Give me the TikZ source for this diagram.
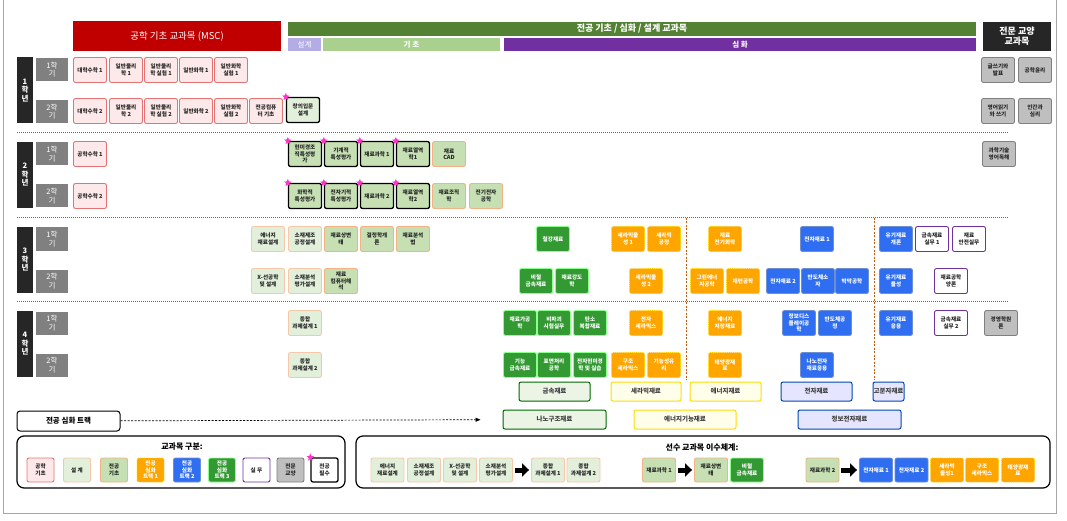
\documentclass[tikz,border=0pt]{standalone}
\usepackage{fontspec}
\setmainfont{Noto Sans CJK KR}
\usetikzlibrary{shapes.geometric,arrows.meta}
\definecolor{msccolor}{HTML}{C00000}
\definecolor{mscfill}{HTML}{FDE9E9}
\definecolor{mscline}{HTML}{E57373}
\definecolor{majorcolor}{HTML}{548235}
\definecolor{designbar}{HTML}{B4ACE4}
\definecolor{basicbar}{HTML}{A9D08E}
\definecolor{deepbar}{HTML}{7030A0}
\definecolor{designfill}{HTML}{E2EFDA}
\definecolor{basicfill}{HTML}{C6E0B4}
\definecolor{salmonline}{HTML}{F4B183}
\definecolor{trackone}{HTML}{FFA500}
\definecolor{tracktwo}{HTML}{2F6EF0}
\definecolor{trackthree}{HTML}{339933}
\definecolor{practicecolor}{HTML}{7030A0}
\definecolor{liberalfill}{HTML}{BFBFBF}
\definecolor{starcolor}{HTML}{FF33CC}
\definecolor{splitcolor}{HTML}{C55A11}
\newcommand\coursefont{\fontsize{5.6}{6.6}\selectfont\bfseries}
\newcommand\labelfont{\fontsize{7.5}{8.5}\selectfont}

\tikzset{
  course/.style={draw, rounded corners=2pt, line width=0.9pt, minimum width=33pt,
    minimum height=25pt, inner sep=0.5pt, align=center, font=\coursefont, text=black!85},
  msc/.style={course, fill=mscfill, draw=mscline},
  design/.style={course, fill=designfill, draw=salmonline!70},
  basic/.style={course, fill=basicfill, draw=salmonline},
  trackA/.style={course, fill=trackone, draw=yellow!70!orange, densely dotted, text=white},
  trackB/.style={course, fill=tracktwo, draw=cyan!40!blue!60, text=white},
  trackC/.style={course, fill=trackthree, draw=green!45, text=white},
  practice/.style={course, fill=white, draw=practicecolor},
  liberal/.style={course, fill=liberalfill, draw=black!50},
  required/.style={draw=black, line width=1.3pt},
  reqstar/.style={star, star points=5, star point ratio=2.3, fill=starcolor, inner sep=0pt, minimum size=8pt},
  yearbar/.style={fill=black!85, text=white, minimum width=16pt, minimum height=66pt, inner sep=0pt,
    align=center, font=\labelfont\bfseries},
  sembox/.style={fill=black!50, text=white, minimum width=32pt, minimum height=23pt, inner sep=0pt,
    align=center, font=\labelfont},
  headbar/.style={inner sep=0pt, text=white, align=center},
  trackbox/.style={draw, rounded corners=2pt, line width=1pt, minimum height=19pt, inner sep=0pt,
    text=black!75, font=\fontsize{6.5}{7}\selectfont\bfseries},
  tmetal/.style={trackbox, draw=green!40!black, fill=designfill!70},
  tcer/.style={trackbox, draw=yellow!80!orange, fill=yellow!8},
  telec/.style={trackbox, draw=blue!60!cyan!70!black, fill=blue!10},
  legendframe/.style={draw, rounded corners=7pt, line width=1.2pt},
  bigarrow/.style={line width=5pt, -{Triangle[length=7pt,width=13pt]}, shorten <=2pt, shorten >=2pt},
  sepline/.style={black!60, line width=0.8pt, dash pattern=on 1pt off 1pt},
}

\begin{document}
\begin{tikzpicture}[x=1pt, y=-1pt]
\useasboundingbox (0,0) rectangle (1067,521);
% outer frame
\draw[black!35, line width=0.8pt] (3,0) -- (3,513) -- (1056,513) -- (1056,0);

% header bars
\node[headbar, fill=msccolor, minimum width=208pt, minimum height=30pt, font=\fontsize{9.5}{10}\selectfont] (mschead) at (177,36) {공학 기초 교과목 (MSC)};
\node[headbar, fill=majorcolor, minimum width=688pt, minimum height=14pt, font=\fontsize{9}{10}\selectfont\bfseries] (majorhead) at (632,29) {전공 기초 / 심화 / 설계 교과목};
\node[headbar, fill=designbar, minimum width=33pt, minimum height=13pt, font=\labelfont] (designhead) at (304.5,44.5) {설계};
\node[headbar, fill=basicbar, minimum width=177pt, minimum height=13pt, font=\labelfont\bfseries] (basichead) at (411.5,44.5) {기 초};
\node[headbar, fill=deepbar, minimum width=472pt, minimum height=13pt, font=\labelfont\bfseries] (deephead) at (740,44.5) {심 화};
\node[headbar, fill=black!85, minimum width=68pt, minimum height=29pt, font=\fontsize{9}{10}\selectfont\bfseries] (libhead) at (1017,36.5) {전문 교양\\교과목};

% year and semester labels
\foreach \n/\y [count=\i] in {1/90.5, 2/175, 3/260, 4/344} {
  \node[yearbar] (year\n) at (25,\y) {\n\\학\\년};
  \node[sembox] (sem\n a) at (52,\y-21) {1학\\기};
  \node[sembox] (sem\n b) at (52,\y+21) {2학\\기};
}

% separators
\foreach \y in {132, 217, 301}
  \draw[sepline] (17,\y) -- (1008,\y);
\draw[splitcolor, line width=0.7pt, dash pattern=on 2pt off 1.5pt] (686,218) -- (686,380);
\draw[splitcolor, line width=0.7pt, dash pattern=on 2pt off 1.5pt] (874,218) -- (874,380);

% 1st year
\foreach \n/\x/\t in {calc1/90/{대학수학 1}, phys1/126/{일반물리\\학 1}, physlab1/161/{일반물리\\학 실험 1},
  chem1/196/{일반화학 1}, chemlab1/231/{일반화학\\실험 1}}
  \node[msc] (\n) at (\x,70) {\t};
\foreach \n/\x/\t in {calc2/90/{대학수학 2}, phys2/126/{일반물리\\학 2}, physlab2/161/{일반물리\\학 실험 2},
  chem2/196/{일반화학 2}, chemlab2/231/{일반화학\\실험 2}, computer/266/{전공컴퓨\\터 기초}}
  \node[msc] (\n) at (\x,111) {\t};
\node[design, required] (creative) at (303,110) {창의입문\\설계};
\node[liberal] (writing) at (998,70) {글쓰기와\\발표};
\node[liberal] (ethics) at (1035,70) {공학윤리};
\node[liberal] (english) at (998,111) {영어읽기\\와 쓰기};
\node[liberal] (psych) at (1035,111) {인간과\\심리};

% 2nd year
\node[msc] (emath1) at (90,154) {공학수학 1};
\node[msc] (emath2) at (90,196) {공학수학 2};
\foreach \n/\x/\t in {micro/305/{현미경조\\직특성평\\가}, mech/341/{기계적\\특성평가}, matsci1/377/{재료과학 1},
  thermo1/413/{재료열역\\학1}}
  \node[basic, required] (\n) at (\x,154) {\t};
\foreach \n/\x/\t in {chemeval/305/{화학적\\특성평가}, emeval/341/{전자기적\\특성평가}, matsci2/377/{재료과학 2},
  thermo2/413/{재료열역\\학2}}
  \node[basic, required] (\n) at (\x,196) {\t};
\node[basic] (cad) at (449,154) {재료\\CAD};
\node[basic] (micstruct) at (449,196) {재료조직\\학};
\node[basic] (eleceng) at (486,196) {전기전자\\공학};
\node[liberal] (scienglish) at (999,154) {과학기술\\영어독해};

% 3rd year
\node[design] (energydes) at (268,239) {에너지\\재료설계};
\node[design] (fabdes) at (305,239) {소재제조\\공정설계};
\node[design] (xraydes) at (268,281) {X-선공학\\및 설계};
\node[design] (evaldes) at (305,281) {소재분석\\평가설계};
\node[basic] (phase) at (341,239) {재료상변\\태};
\node[basic] (cryst) at (377,239) {결정학개\\론};
\node[basic] (analysis) at (413,239) {재료분석\\법};
\node[basic] (compsim) at (341,281) {재료\\컴퓨터해\\석};
\node[trackC] (steel) at (553,239) {철강재료};
\node[trackC] (nonferrous) at (536,281) {비철\\금속재료};
\node[trackC] (strength) at (572,281) {재료강도\\학};
\node[trackA] (ceramic1) at (628,239) {세라믹물\\성 1};
\node[trackA] (cerproc) at (664,239) {세라믹\\공정};
\node[trackA] (ceramic2) at (646,281) {세라믹물\\성 2};
\node[trackA] (echem) at (725,239) {재료\\전기화학};
\node[trackA] (greeneng) at (707,281) {그린에너\\지공학};
\node[trackA] (refining) at (743,281) {재련공학};
\node[trackB] (elmat1) at (817,239) {전자재료 1};
\node[trackB] (elmat2) at (783,281) {전자재료 2};
\node[trackB] (semidev) at (818,281) {반도체소\\자};
\node[trackB] (thinfilm) at (852,281) {박막공학};
\node[trackB] (organic) at (896,239) {유기재료\\개론};
\node[trackB] (orgprop) at (896,281) {유기재료\\물성};
\node[practice] (metprac1) at (932,239) {금속재료\\실무 1};
\node[practice] (safety) at (969,239) {재료\\안전실무};
\node[practice] (stoich) at (951,281) {재료공학\\양론};

% 4th year
\node[design] (capstone1) at (305,323) {종합\\과제설계 1};
\node[design] (capstone2) at (305,365) {종합\\과제설계 2};
\node[trackC] (process) at (520,323) {재료가공\\학};
\node[trackC] (ndt) at (554,323) {비파괴\\시험실무};
\node[trackC] (carbon) at (590,323) {탄소\\복합재료};
\node[trackC] (funcmet) at (520,365) {기능\\금속재료};
\node[trackC] (surface) at (554,365) {표면처리\\공학};
\node[trackC] (tem) at (590,365) {전자현미경\\학 및 실습};
\node[trackA] (elcer) at (646,323) {전자\\세라믹스};
\node[trackA] (strcer) at (628,365) {구조\\세라믹스};
\node[trackA] (glass) at (664,365) {기능성유\\리};
\node[trackA] (storage) at (725,323) {에너지\\저장재료};
\node[trackA] (solar) at (725,365) {태양광재\\료};
\node[trackB] (display) at (799,323) {정보디스\\플레이공\\학};
\node[trackB] (semiproc) at (835,323) {반도체공\\정};
\node[trackB] (nanoel) at (817,365) {나노전자\\재료응용};
\node[trackB] (orgapp) at (896,323) {유기재료\\응용};
\node[practice] (metprac2) at (951,323) {금속재료\\실무 2};
\node[liberal] (management) at (1001,323) {경영학원\\론};

% required stars
\foreach \n in {creative, micro, mech, matsci1, thermo1, chemeval, emeval, matsci2, thermo2}
  \node[reqstar] (star-\n) at (\n.north west) {};

% tracks
\node[tmetal, minimum width=71pt] (metal) at (554.5,391.5) {금속재료};
\node[tcer, minimum width=70pt] (ceramics) at (646,391.5) {세라믹재료};
\node[tcer, minimum width=71pt] (energy) at (725.5,391.5) {에너지재료};
\node[telec, minimum width=71pt] (electronic) at (816.5,391.5) {전자재료};
\node[telec, minimum width=31pt] (polymer) at (888.5,391.5) {고분자재료};
\node[tmetal, minimum width=103pt] (nanostruct) at (554.5,419.5) {나노구조재료};
\node[tcer, minimum width=102pt] (enfunc) at (685,419.5) {에너지기능재료};
\node[telec, minimum width=103pt] (infoel) at (849.5,419.5) {정보전자재료};
\node[draw, rounded corners=3pt, line width=1pt, minimum width=103pt, minimum height=20pt, font=\fontsize{7.5}{8}\selectfont\bfseries] (trackbtn) at (68.5,421) {전공 심화 트랙};
\draw[line width=0.7pt, dash pattern=on 2pt off 1.5pt, -{Triangle[length=5pt,width=4pt]}, shorten >=22pt] (trackbtn) -- (nanostruct);

% legend: course types
\node[legendframe, minimum width=328pt, minimum height=52pt] (legtypes) at (181,462) {};
\node[font=\fontsize{8}{9}\selectfont\bfseries] (legtypes-title) at (182,447) {교과목 구분:};
\node[msc, minimum width=27pt, minimum height=24pt] (leg-msc) at (40.5,470) {공학\\기초};
\node[design, minimum width=27pt, minimum height=24pt] (leg-design) at (77,470) {설 계};
\node[basic, minimum width=27pt, minimum height=24pt] (leg-basic) at (114,470) {전공\\기초};
\node[trackA, minimum width=27pt, minimum height=24pt] (leg-track1) at (150.5,470) {전공\\심화\\트랙 1};
\node[trackB, minimum width=27pt, minimum height=24pt] (leg-track2) at (187,470) {전공\\심화\\트랙 2};
\node[trackC, minimum width=27pt, minimum height=24pt] (leg-track3) at (222,470) {전공\\심화\\트랙 3};
\node[practice, minimum width=27pt, minimum height=24pt] (leg-practice) at (256.5,470) {실 무};
\node[liberal, minimum width=27pt, minimum height=24pt] (leg-liberal) at (290.5,470) {전문\\교양};
\node[course, required, fill=white, minimum width=27pt, minimum height=24pt] (leg-required) at (324.5,470) {전공\\필수};
\node[reqstar] (star-leg) at (leg-required.north west) {};

% legend: prerequisites
\node[legendframe, minimum width=694pt, minimum height=52pt] (legprereq) at (703,462) {};
\node[font=\fontsize{8}{9}\selectfont\bfseries] (legprereq-title) at (702,448) {선수 교과목 이수체계:};
\node[design, minimum height=24pt] (pre-energy) at (387.5,470) {에너지\\재료설계};
\node[design, minimum height=24pt] (pre-fab) at (424,470) {소재제조\\공정설계};
\node[design, minimum height=24pt] (pre-xray) at (460,470) {X-선공학\\및 설계};
\node[design, minimum height=24pt] (pre-eval) at (496,470) {소재분석\\평가설계};
\node[design, minimum height=24pt] (pre-cap1) at (548,470) {종합\\과제설계 1};
\node[design, minimum height=24pt] (pre-cap2) at (583.5,470) {종합\\과제설계 2};
\node[basic, minimum height=24pt] (pre-sci1) at (659,470) {재료과학 1};
\node[basic, minimum height=24pt] (pre-phase) at (711,470) {재료상변\\태};
\node[trackC, minimum height=24pt] (pre-nonfe) at (747,470) {비철\\금속재료};
\node[basic, minimum height=24pt] (pre-sci2) at (822.5,470) {재료과학 2};
\node[trackB, minimum height=24pt] (pre-el1) at (876,470) {전자재료 1};
\node[trackB, minimum height=24pt] (pre-el2) at (911.5,470) {전자재료 2};
\node[trackA, minimum height=24pt] (pre-cer1) at (947,470) {세라믹\\물성1};
\node[trackA, minimum height=24pt] (pre-strcer) at (982,470) {구조\\세라믹스};
\node[trackA, minimum height=24pt] (pre-solar) at (1018,470) {태양광재\\료};
\draw[bigarrow] (pre-eval) -- (pre-cap1);
\draw[bigarrow] (pre-sci1) -- (pre-phase);
\draw[bigarrow] (pre-sci2) -- (pre-el1);
\end{tikzpicture}
\end{document}
